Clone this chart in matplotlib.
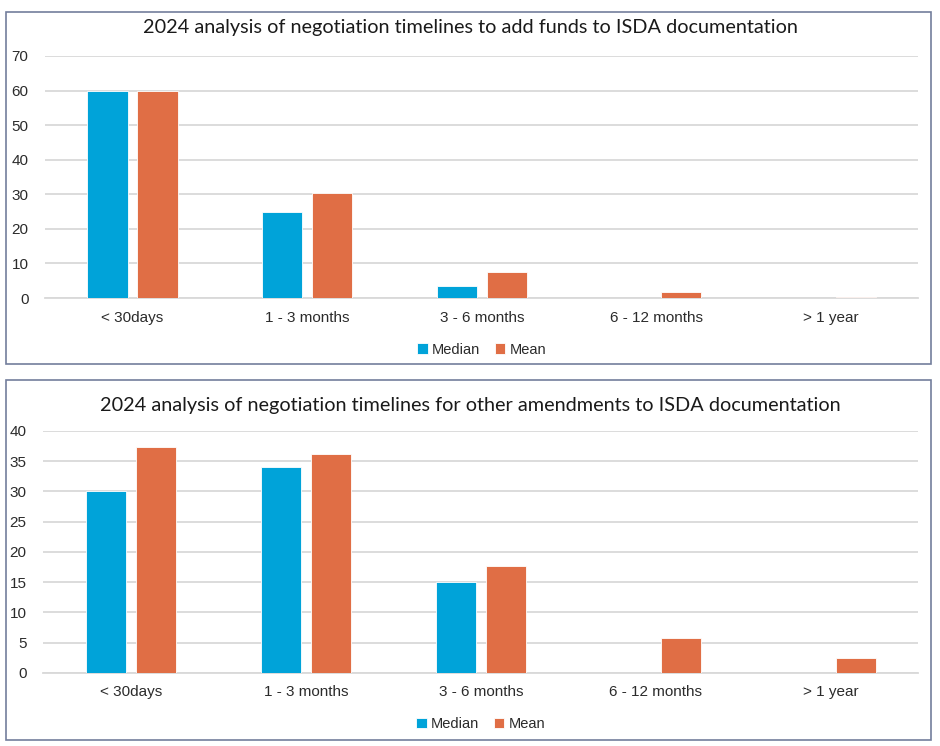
import numpy as np
import matplotlib as mpl
mpl.use('Agg')
import matplotlib.pyplot as plt
from matplotlib.patches import Rectangle
mpl.rcParams['font.family'] = ['Liberation Sans', 'DejaVu Sans']

########################################################
categories = ['< 30days', '1 - 3 months', '3 - 6 months', '6 - 12 months', '> 1 year']
series = ['Median', 'Mean']

title_funds = '2024 analysis of negotiation timelines to add funds to ISDA documentation'
median_funds = [60, 25, 3.5, 0, 0]
mean_funds = [60, 30.4, 7.5, 1.7, 0.4]
yticks_funds = [0, 10, 20, 30, 40, 50, 60, 70]

title_other = '2024 analysis of negotiation timelines for other amendments to ISDA documentation'
median_other = [30, 34, 15, 0, 0]
mean_other = [37.4, 36.2, 17.7, 5.8, 2.5]
yticks_other = [0, 5, 10, 15, 20, 25, 30, 35, 40]
########################################################

BLUE = '#00a3d9'
ORANGE = '#e06e45'
GRID = '#d9d9d9'
BORDER = '#737e9c'

fig = plt.figure(figsize=(9.4, 7.46), dpi=100)


def panel(rect, ax_rect, title, title_y, med, mean, yticks):
    # frame around the whole chart
    fig.patches.append(Rectangle((rect[0], rect[1]), rect[2], rect[3],
                                 transform=fig.transFigure, fill=False,
                                 edgecolor=BORDER, linewidth=1.2))
    ax = fig.add_axes(ax_rect)
    x = np.arange(len(categories))
    w = 0.23
    off = 0.143
    ax.bar(x - off, med, w, color=BLUE, edgecolor='white', linewidth=0.6,
           label=series[0], zorder=3)
    ax.bar(x + off, mean, w, color=ORANGE, edgecolor='white', linewidth=0.6,
           label=series[1], zorder=3)
    ax.set_xlim(-0.5, len(categories) - 0.5)
    ax.set_ylim(yticks[0], yticks[-1])
    ax.set_yticks(yticks)
    ax.set_xticks(x)
    ax.set_xticklabels(categories)
    ax.yaxis.grid(True, color=GRID, linewidth=1.3, zorder=0)
    for s in ['top', 'right', 'left']:
        ax.spines[s].set_visible(False)
    ax.spines['bottom'].set_color(GRID)
    ax.spines['bottom'].set_linewidth(1.3)
    ax.tick_params(length=0, labelsize=11, colors='#2b2b2b')
    ax.tick_params(axis='x', pad=9)
    ax.tick_params(axis='y', pad=12)
    fig.text(0.5, title_y, title, ha='center', va='center', fontsize=14.3,
             color='#1a1a1a', family=['Lato', 'DejaVu Sans'])
    ax.legend(loc='upper center', bbox_to_anchor=(0.5, -0.13), ncol=2,
              frameon=False, fontsize=10.5, handlelength=0.7, handleheight=0.7,
              handletextpad=0.3, columnspacing=1.0, labelcolor='#2b2b2b')
    return ax


panel((0.006, 0.512, 0.984, 0.472), (0.048, 0.6005, 0.929, 0.3245),
      title_funds, 0.963, median_funds, mean_funds, yticks_funds)
panel((0.006, 0.008, 0.984, 0.482), (0.046, 0.098, 0.931, 0.3245),
      title_other, 0.457, median_other, mean_other, yticks_other)

plt.savefig('out.png', dpi=100)
